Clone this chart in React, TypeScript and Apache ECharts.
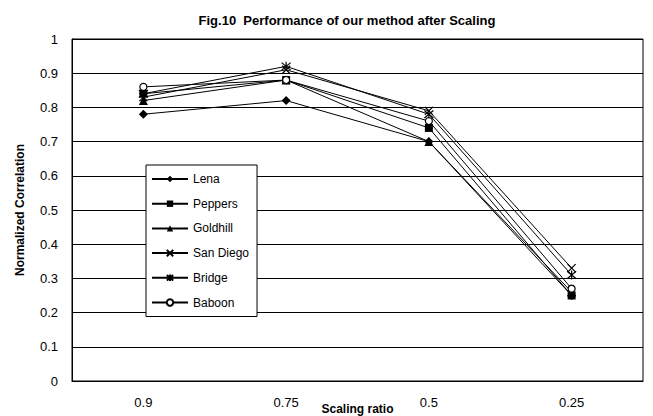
import React, { useEffect, useRef } from "react";
import * as echarts from "echarts";

const categories = ["0.9", "0.75", "0.5", "0.25"];
const lena = [0.78, 0.82, 0.70, 0.25];
const peppers = [0.84, 0.88, 0.74, 0.25];
const goldhill = [0.82, 0.88, 0.70, 0.26];
const sanDiego = [0.83, 0.91, 0.79, 0.33];
const bridge = [0.84, 0.92, 0.78, 0.31];
const baboon = [0.86, 0.88, 0.76, 0.27];

const FONT = "'Liberation Sans', Arial, sans-serif";
const X_PATH = "path://M0,0L10,10M10,0L0,10";
const STAR_PATH = "path://M0,0L10,10M10,0L0,10M5,-1L5,11";

export default function App() {
  const ref = useRef<HTMLDivElement>(null);
  useEffect(() => {
    if (!ref.current) return;
    const chart = echarts.init(ref.current, undefined, { renderer: "svg" });
    const mk = (name: string, data: number[], symbol: string, size: number, fill: string, stroke: boolean) => ({
      name,
      type: "line",
      data,
      symbol,
      symbolSize: size,
      showAllSymbol: true,
      lineStyle: { color: "#000", width: 1 },
      itemStyle: {
        color: fill,
        borderColor: "#000",
        borderWidth: stroke ? 1.2 : 0,
      },
      emphasis: { disabled: true },
      z: 3,
    });
    chart.setOption({
      animation: false,
      backgroundColor: "#fff",
      title: {
        text: "Fig.10  Performance of our method after Scaling",
        left: 342,
        textAlign: "center",
        top: 9,
        textStyle: { fontFamily: FONT, fontSize: 13, fontWeight: "bold", color: "#000" },
      },
      grid: {
        left: 72,
        right: 10,
        top: 39,
        bottom: 35,
        outerBoundsMode: "none",
        containLabel: false,
        show: true,
        borderColor: "#000",
        borderWidth: 1,
        backgroundColor: "transparent",
      },
      legend: {
        orient: "vertical",
        left: 146,
        top: 165,
        width: 110,
        padding: [8, 8, 8, 5],
        itemGap: 12.7,
        itemWidth: 36,
        itemHeight: 8,
        backgroundColor: "#fff",
        borderColor: "#000",
        borderWidth: 1,
        textStyle: { fontFamily: FONT, fontSize: 12, color: "#000" },
        data: ["Lena", "Peppers", "Goldhill", "San Diego", "Bridge", "Baboon"],
      },
      xAxis: {
        type: "category",
        data: categories,
        boundaryGap: true,
        name: "Scaling ratio",
        nameLocation: "middle",
        nameGap: 22,
        nameMoveOverlap: false,
        nameTextStyle: { fontFamily: FONT, fontSize: 12, fontWeight: "bold", color: "#000" },
        axisLine: { lineStyle: { color: "#000", width: 1 } },
        axisTick: { inside: true, length: 5, lineStyle: { color: "#000" } },
        axisLabel: { fontFamily: FONT, fontSize: 13, color: "#000", margin: 15 },
        splitLine: { show: false },
      },
      yAxis: {
        type: "value",
        min: 0,
        max: 1,
        interval: 0.1,
        name: "Normalized Correlation",
        nameLocation: "middle",
        nameRotate: 90,
        nameGap: 46,
        nameMoveOverlap: false,
        nameTextStyle: { fontFamily: FONT, fontSize: 12, fontWeight: "bold", color: "#000" },
        axisLine: { show: true, lineStyle: { color: "#000", width: 1 } },
        axisTick: { show: false },
        axisLabel: {
          fontFamily: FONT,
          fontSize: 13,
          color: "#000",
          margin: 14,
          formatter: (v: number) => String(Math.round(v * 10) / 10),
        },
        splitLine: { show: true, lineStyle: { color: "#000", width: 1 } },
      },
      series: [
        mk("Lena", lena, "diamond", 9, "#000", false),
        mk("Peppers", peppers, "rect", 8, "#000", false),
        mk("Goldhill", goldhill, "triangle", 9, "#000", false),
        mk("San Diego", sanDiego, X_PATH, 8, "none", true),
        mk("Bridge", bridge, STAR_PATH, 9, "none", true),
        mk("Baboon", baboon, "circle", 7, "#fff", true),
      ],
    });
    return () => chart.dispose();
  }, []);
  return <div ref={ref} style={{ width: 653, height: 416, position: "absolute", left: 0, top: 0 }} />;
}
